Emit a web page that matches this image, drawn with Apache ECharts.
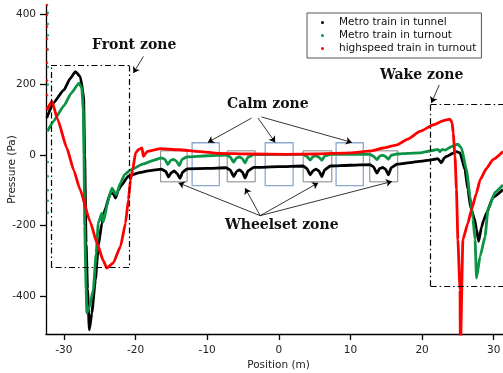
<!DOCTYPE html>
<html>
<head>
<meta charset="utf-8">
<script src="https://cdn.jsdelivr.net/npm/echarts@6/dist/echarts.min.js"></script>
<style>
  html, body { margin: 0; padding: 0; background: #fff; }
  #chart { width: 503px; height: 373px; }
</style>
</head>
<body>
<div id="chart"></div>
<script>
// 数据：位置 (m) 与压力 (Pa)
var tunnelX = [-32.4, -31.5, -30.0, -29.1, -28.4, -27.7, -27.25, -27.1, -26.9, -26.7, -26.45, -26.1, -25.6, -25.2, -24.7, -24.2, -23.5, -23.1, -22.8, -22.4, -22.1, -21.0, -19.5, -18.0, -16.4, -15.8, -15.4, -15.0, -14.6, -14.2, -13.8, -13.4, -12.8, -10.0, -7.4, -6.8, -6.3, -5.9, -5.5, -5.1, -4.7, -4.3, -3.5, 0, 3.4, 3.9, 4.4, 4.8, 5.2, 5.6, 6.0, 6.4, 7.2, 10, 12.7, 13.2, 13.7, 14.1, 14.5, 14.9, 15.3, 15.7, 16.5, 18, 20, 21.5, 22.2, 22.7, 23.1, 23.4, 24.4, 24.8, 25.3, 26.0, 26.4, 26.8, 27.3, 27.6, 27.9, 28.3, 28.6, 29.0, 29.9, 31.3];
var tunnelP = [105, 147, 185, 218, 237, 222, 166, 0, -250, -380, -496, -448, -354, -259, -193, -150, -108, -110, -122, -100, -89, -60, -50, -44, -40, -46, -62, -50, -45, -52, -66, -48, -39, -38, -36, -42, -61, -47, -42, -48, -65, -45, -35, -33, -31, -38, -56, -44, -40, -45, -61, -42, -31, -29, -27, -33, -51, -38, -35, -40, -56, -36, -26, -22, -17, -13, -10, -22, -8, -4, 6, 10, 6, -42, -98, -150, -180, -210, -245, -205, -185, -165, -120, -98];

var turnoutX = [-32.3, -31.5, -30.0, -29.0, -27.9, -27.5, -27.3, -27.2, -27.1, -26.9, -26.8, -26.4, -25.9, -25.5, -25.2, -24.7, -24.5, -23.8, -23.3, -22.7, -22.1, -21.5, -20.7, -18.9, -17.5, -16.4, -15.9, -15.5, -15.1, -14.7, -14.3, -13.9, -13.5, -12.8, -10, -7.3, -6.8, -6.3, -5.9, -5.5, -5.1, -4.7, -4.3, -3.5, 0, 3.4, 3.9, 4.4, 4.8, 5.2, 5.6, 6.0, 6.4, 7.2, 10, 12.7, 13.2, 13.7, 14.1, 14.5, 14.9, 15.3, 15.7, 16.5, 18, 19.7, 21.5, 22.2, 22.5, 22.8, 23.2, 24.1, 25.0, 25.5, 26.2, 26.7, 27.1, 27.4, 27.6, 28.1, 28.8, 29.2, 30.2, 31.3];
var turnoutP = [67, 95, 140, 175, 204, 190, 130, 0, -200, -380, -448, -430, -382, -280, -193, -165, -190, -127, -94, -113, -79, -55, -42, -25, -15, -8, -12, -27, -15, -12, -17, -30, -12, -5, -2, 0, -5, -20, -8, -5, -10, -22, -6, 1, 2, 2, -4, -14, -4, -2, -6, -15, -3, 2, 2, 2, -3, -13, -3, 0, -4, -12, 0, 3, 5, 6, 13, 16, 10, 16, 14, 24, 31, 20, -42, -117, -180, -240, -349, -288, -231, -155, -105, -85];

var highspeedX = [-32.4, -31.66, -30.9, -29.6, -28.6, -27.8, -26.3, -25.4, -24.5, -24.0, -23.1, -22.1, -21.4, -21.0, -20.7, -20.4, -20.0, -19.6, -19.1, -18.9, -18.4, -17.5, -16.6, -14, -11, -8.4, -4, 1, 5, 10, 13, 14.6, 16.5, 18, 19.7, 21.6, 23.0, 23.9, 24.2, 24.35, 24.6, 24.8, 25.0, 25.3, 25.35, 25.7, 26.4, 26.9, 27.6, 28.1, 29.0, 29.9, 31.3];
var highspeedP = [128, 152, 103, 20, -44, -95, -191, -249, -300, -321, -306, -259, -193, -127, -70, -42, 6, 15, 20, -4, 10, 14, 18, 15, 10, 5, 3, 2, 3, 6, 12, 20, 29, 45, 67, 86, 98, 102, 92, 62, -4, -98, -240, -382, -560, -240, -193, -155, -108, -70, -38, -13, 10];

// 起始处的离散点
var startRedP = [426, 398, 364, 330, 300, 262, 212, 170];
var startGreenP = [404, 372, 340, 300, 250, 200, -20, -60, -100, -130, -164];

var xTicks = [-30, -20, -10, 0, 10, 20, 30];
var yTicks = [-400, -200, 0, 200, 400];

// 区域框 (位置, 压力)
var frontBox = [-31.8, -20.9, 254, -318];
var wakeBox = [21.2, 31.3, 143, -373];
var calmBoxes = [[-12.1, -8.3], [-1.9, 2.0], [8.0, 11.8]];
var calmP = [35, -87];
var wheelsetBoxes = [[-16.5, -12.8], [-7.2, -3.3], [3.4, 7.4], [12.7, 16.6]];
var wheelsetP = [12, -76];

function pairs(xs, ys) {
  return xs.map(function (x, i) { return [x, ys[i]]; });
}

var chart = echarts.init(document.getElementById("chart"));

var font = "DejaVu Sans";
var axisColor = "#000";
var dashDot = [6, 3, 1.5, 3];

function seg(a, b) {
  return [{ coord: a }, { coord: b }];
}

var boxLines = [
  seg([frontBox[0], frontBox[2]], [frontBox[1], frontBox[2]]),
  seg([frontBox[1], frontBox[2]], [frontBox[1], frontBox[3]]),
  seg([frontBox[1], frontBox[3]], [frontBox[0], frontBox[3]]),
  seg([frontBox[0], frontBox[3]], [frontBox[0], frontBox[2]]),
  seg([wakeBox[0], wakeBox[2]], [wakeBox[1], wakeBox[2]]),
  seg([wakeBox[0], wakeBox[2]], [wakeBox[0], wakeBox[3]]),
  seg([wakeBox[0], wakeBox[3]], [wakeBox[1], wakeBox[3]])
];

var arrows = [
  seg([-3.8, 105], [-9.9, 36]),
  seg([-2.9, 105], [-0.5, 36]),
  seg([-2.4, 108], [10.2, 36]),
  seg([-2.6, -172], [-14.0, -79]),
  seg([-2.6, -172], [-4.7, -94]),
  seg([-2.6, -172], [5.5, -79]),
  seg([-2.6, -172], [15.8, -75])
];

var curvedArrows = [
  seg([-18.9, 280], [-20.3, 233]),
  seg([22.4, 199], [21.3, 148])
];

var areas = [];
calmBoxes.forEach(function (b) {
  areas.push([
    { xAxis: b[0], yAxis: calmP[0], itemStyle: { borderColor: "#8ea8d0", borderWidth: 1.3, color: "rgba(0,0,0,0)" } },
    { xAxis: b[1], yAxis: calmP[1] }
  ]);
});
wheelsetBoxes.forEach(function (b) {
  areas.push([
    { xAxis: b[0], yAxis: wheelsetP[0], itemStyle: { borderColor: "#666", borderWidth: 0.8, color: "rgba(0,0,0,0)" } },
    { xAxis: b[1], yAxis: wheelsetP[1] }
  ]);
});

var option = {
  animation: false,
  grid: { left: 46, right: 0, top: 5, bottom: 39, outerBoundsMode: "none" },
  legend: {
    orient: "vertical",
    left: 307,
    top: 13,
    padding: [3, 5, 3, 14],
    itemWidth: 3,
    itemHeight: 3,
    itemGap: 0,
    icon: "circle",
    borderColor: "#555",
    borderWidth: 1,
    textStyle: { fontFamily: font, fontSize: 10.5, color: "#111", lineHeight: 13, padding: [0, 0, 0, 10] },
    data: ["Metro train in tunnel", "Metro train in turnout", "highspeed train in turnout"]
  },
  xAxis: {
    type: "value",
    min: -32.5,
    max: 31.3,
    name: "Position (m)",
    nameLocation: "middle",
    nameGap: 26,
    nameMoveOverlap: false,
    nameTextStyle: { fontFamily: font, fontSize: 10.5, color: "#222", padding: [0, 0, 0, 8] },
    axisLine: { onZero: false, lineStyle: { color: axisColor, width: 1.3 } },
    axisTick: { customValues: xTicks, length: 6, lineStyle: { color: axisColor, width: 1.3 } },
    axisLabel: { customValues: xTicks, margin: 11, fontFamily: font, fontSize: 10.5, color: "#222" },
    splitLine: { show: false }
  },
  yAxis: {
    type: "value",
    min: -508,
    max: 426,
    name: "Pressure (Pa)",
    nameLocation: "middle",
    nameGap: 28,
    nameMoveOverlap: false,
    nameTextStyle: { fontFamily: font, fontSize: 10.5, color: "#222" },
    axisLine: { onZero: false, lineStyle: { color: axisColor, width: 1.3 } },
    axisTick: { customValues: yTicks, length: 6, lineStyle: { color: axisColor, width: 1.3 } },
    axisLabel: { customValues: yTicks, margin: 10, fontFamily: font, fontSize: 10.5, color: "#222" },
    splitLine: { show: false }
  },
  series: [
    {
      name: "zones",
      type: "line",
      data: [],
      silent: true,
      markArea: { silent: true, data: areas },
      markLine: {
        silent: true,
        symbol: ["none", "none"],
        label: { show: false },
        lineStyle: { color: "#000", width: 1.2, type: dashDot },
        data: boxLines
      }
    },
    {
      name: "arrows",
      type: "line",
      data: [],
      silent: true,
      markLine: {
        silent: true,
        symbol: ["none", "arrow"],
        symbolSize: 6,
        label: { show: false },
        lineStyle: { color: "#000", width: 0.8, type: "solid" },
        data: arrows
      }
    },
    {
      name: "curved",
      type: "line",
      data: [],
      silent: true,
      markLine: {
        silent: true,
        symbol: ["none", "arrow"],
        symbolSize: 6,
        label: { show: false },
        lineStyle: { color: "#000", width: 0.8, type: "solid", curveness: 0.3 },
        data: curvedArrows
      }
    },
    {
      name: "Metro train in tunnel",
      type: "line",
      color: "#000",
      symbol: "none",
      smooth: 0.15,
      smoothMonotone: "x",
      lineStyle: { width: 2.8 },
      data: pairs(tunnelX, tunnelP)
    },
    {
      name: "Metro train in turnout",
      type: "line",
      color: "#0b9346",
      symbol: "none",
      smooth: 0.15,
      smoothMonotone: "x",
      lineStyle: { width: 2.8 },
      data: pairs(turnoutX, turnoutP)
    },
    {
      name: "highspeed train in turnout",
      type: "line",
      color: "#ff0000",
      symbol: "none",
      smooth: 0.15,
      smoothMonotone: "x",
      lineStyle: { width: 2.8 },
      data: pairs(highspeedX, highspeedP)
    },
    {
      name: "Metro train in turnout",
      type: "scatter",
      color: "#0b9346",
      symbolSize: 2.5,
      data: startGreenP.map(function (p) { return [-32.25, p]; })
    },
    {
      name: "highspeed train in turnout",
      type: "scatter",
      color: "#ff0000",
      symbolSize: 2.5,
      data: startRedP.map(function (p) { return [-32.35, p]; })
    }
  ],
  graphic: [
    { type: "text", left: 92, top: 38, style: { text: "Front zone", font: "bold 14px 'DejaVu Serif'", fill: "#111" } },
    { type: "text", left: 380, top: 68, style: { text: "Wake zone", font: "bold 14px 'DejaVu Serif'", fill: "#111" } },
    { type: "text", left: 227, top: 97, style: { text: "Calm zone", font: "bold 14px 'DejaVu Serif'", fill: "#111" } },
    { type: "text", left: 225, top: 218, style: { text: "Wheelset zone", font: "bold 14px 'DejaVu Serif'", fill: "#111" } }
  ]
};

chart.setOption(option);

window.addEventListener("resize", function () {
  chart.resize();
});
</script>
</body>
</html>
